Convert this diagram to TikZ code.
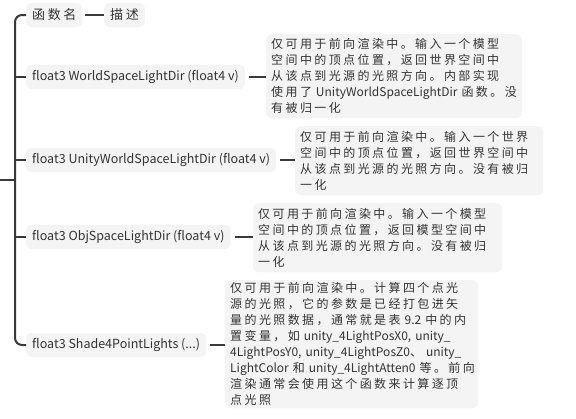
\documentclass[tikz,border=0pt]{standalone}
\usepackage{fontspec}
\setmainfont{Noto Sans CJK SC}
\newfontfamily\cjkspaced[LetterSpace=20]{Noto Sans CJK SC}
\newfontfamily\latfont{Noto Sans CJK SC}
\newcommand\lt[1]{{\latfont #1}}
\definecolor{txt}{HTML}{333333}
\definecolor{boxfill}{HTML}{F4F4F4}
\definecolor{linec}{HTML}{3A3A3A}
\begin{document}
\begin{tikzpicture}[x=1pt,y=-1pt,
  lbl/.style={fill=boxfill, rounded corners=5pt, text=txt, anchor=west,
    inner xsep=6pt, inner ysep=0pt, minimum height=24pt,
    font=\fontsize{12.5}{16}\latfont},
  hdrbox/.style={lbl, font=\fontsize{13}{16}\cjkspaced},
  desc/.style={fill=boxfill, rounded corners=6pt, text=txt, anchor=north west,
    inner xsep=5pt, inner ysep=0pt, align=left,
    font=\fontsize{12}{16}\cjkspaced},
  conn/.style={draw=linec, line width=2pt}]
\useasboundingbox (0,0) rectangle (576,418);
\fill[white] (0,0) rectangle (576,418);

\coordinate (sp) at (15,180);
\coordinate (root) at (0,180);

\node[hdrbox] (hdr) at (26,15) {函数名};
\node[hdrbox] (dsc) at (104,15) {描述};

\node[lbl] (l1) at (26,77) {float3 WorldSpaceLightDir (float4 v)};
\node[lbl] (l2) at (26,160) {float3 UnityWorldSpaceLightDir (float4 v)};
\node[lbl] (l3) at (26,237) {float3 ObjSpaceLightDir (float4 v)};
\node[lbl] (l4) at (26,345) {float3 Shade4PointLights (...)};

\node[desc, text width=246pt, minimum height=84pt] (d1) at (266,34)
  {仅可用于前向渲染中。输入一个模型\\
   空间中的顶点位置，返回世界空间中\\
   从该点到光源的光照方向。内部实现\\
   使用了 \lt{UnityWorldSpaceLightDir} 函数。没\\
   有被归一化};
\node[desc, text width=238pt, minimum height=69pt] (d2) at (295,126)
  {仅可用于前向渲染中。输入一个世界\\
   空间中的顶点位置，返回世界空间中\\
   从该点到光源的光照方向。没有被归\\
   一化};
\node[desc, text width=239pt, minimum height=69pt] (d3) at (253,203)
  {仅可用于前向渲染中。输入一个模型\\
   空间中的顶点位置，返回模型空间中\\
   从该点到光源的光照方向。没有被归\\
   一化};
\node[desc, text width=243pt, minimum height=128pt] (d4) at (225,280)
  {仅可用于前向渲染中。计算四个点光\\
   源的光照，它的参数是已经打包进矢\\
   量的光照数据，通常就是表 \lt{9.2} 中的内\\
   置变量，如 \lt{unity\_4LightPosX0, unity\_}\\
   \lt{4LightPosY0, unity\_4LightPosZ0}、 \lt{unity\_}\\
   \lt{LightColor} 和 \lt{unity\_4LightAtten0} 等。前向\\
   渲染通常会使用这个函数来计算逐顶\\
   点光照};

% spine
\draw[conn, rounded corners=7pt] (hdr.west) -| (sp) |- (l4.west);
\draw[conn] (root) -- (sp);
\draw[conn] (l1.west) -- (l1.west -| sp);
\draw[conn] (l2.west) -- (l2.west -| sp);
\draw[conn] (l3.west) -- (l3.west -| sp);

% connectors to descriptions
\draw[conn, shorten <=2pt] (hdr.east) -- (hdr.east -| dsc.west);
\draw[conn, shorten <=4pt] (l1.east) -- (l1.east -| d1.west);
\draw[conn, shorten <=4pt] (l2.east) -- (l2.east -| d2.west);
\draw[conn, shorten <=4pt] (l3.east) -- (l3.east -| d3.west);
\draw[conn, shorten <=4pt] (l4.east) -- (l4.east -| d4.west);
\end{tikzpicture}
\end{document}
